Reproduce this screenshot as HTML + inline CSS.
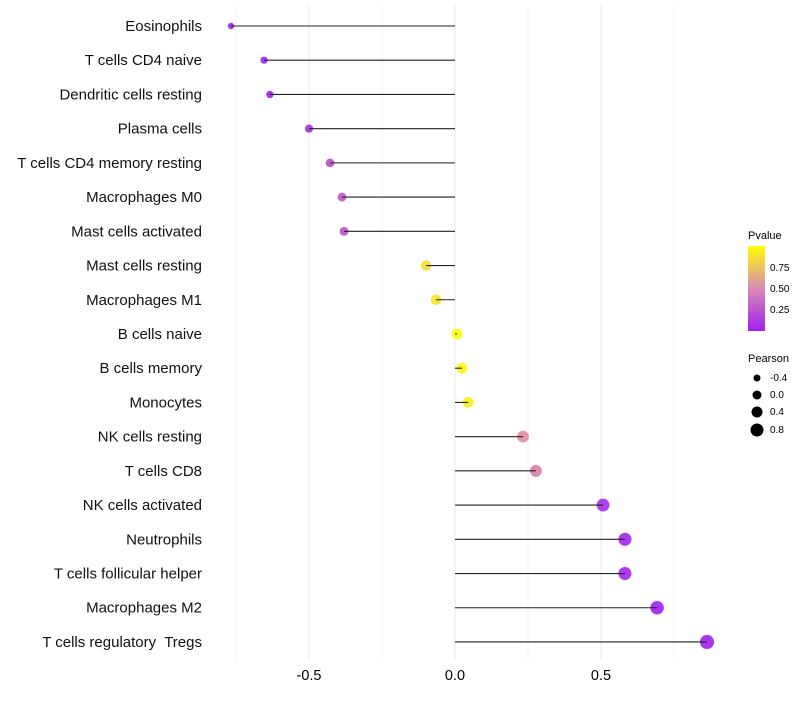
<!DOCTYPE html>
<html><head><meta charset="utf-8"><style>
body{margin:0;background:#fff;font-family:"Liberation Sans",sans-serif}
text{white-space:pre}
</style></head><body>
<svg id="chart" width="800" height="700" xmlns="http://www.w3.org/2000/svg">
<defs><linearGradient id="pg" x1="0" y1="1" x2="0" y2="0">
<stop offset="0" stop-color="#A020F0"/><stop offset="0.5" stop-color="#D98BB4"/><stop offset="1" stop-color="#FFFF00"/>
</linearGradient></defs>
<g id="grid"></g><g id="marks"></g><g id="labels"></g>
<g font-size="10">
<text x="748" y="239" font-size="11">Pvalue</text>
<rect x="748" y="246" width="17" height="85" fill="url(#pg)"/>
<text x="770" y="271">0.75</text><text x="770" y="292">0.50</text><text x="770" y="313">0.25</text>
</g>
<g font-size="10">
<text x="748" y="362" font-size="11">Pearson</text>
<circle cx="757" cy="378" r="3.5"/><text x="770" y="381">-0.4</text>
<circle cx="757" cy="395" r="4.5"/><text x="770" y="398">0.0</text>
<circle cx="757" cy="412" r="5.5"/><text x="770" y="415">0.4</text>
<circle cx="757" cy="430" r="6.5"/><text x="770" y="433">0.8</text>
</g>
</svg>
<script>
const cells=["Eosinophils","T cells CD4 naive","Dendritic cells resting","Plasma cells","T cells CD4 memory resting","Macrophages M0","Mast cells activated","Mast cells resting","Macrophages M1","B cells naive","B cells memory","Monocytes","NK cells resting","T cells CD8","NK cells activated","Neutrophils","T cells follicular helper","Macrophages M2","T cells regulatory  Tregs"];
const pearson=[-0.767,-0.654,-0.634,-0.5,-0.428,-0.387,-0.38,-0.099,-0.065,0.007,0.024,0.045,0.233,0.277,0.507,0.582,0.582,0.692,0.863];
const pvalues=[0.0,0.01,0.02,0.08,0.2,0.25,0.22,0.85,0.88,1.0,0.96,0.92,0.5,0.45,0.05,0.03,0.03,0.0,0.0];
const ticks=[-0.5,0,0.5];
const tickLabels=["-0.5","0.0","0.5"];
const minor=[-0.75,-0.25,0.25,0.75];
const NS="http://www.w3.org/2000/svg";
const x=v=>455+v*292;
const y=i=>26+i*34.22;
const rad=v=>Math.sqrt(Math.max(4,29+24*v));
function col(p){const a=[160,32,240],m=[222,140,160],b=[255,255,0];let c;
if(p<0.5){const t=p/0.5;c=a.map((v,k)=>v+(m[k]-v)*t);}else{const t=(p-0.5)/0.5;c=m.map((v,k)=>v+(b[k]-v)*t);}
return `rgb(${c.map(Math.round).join(",")})`;}
function mk(t,a,p){const e=document.createElementNS(NS,t);for(const k in a)e.setAttribute(k,a[k]);(p).appendChild(e);return e;}
const G=document.getElementById("grid"),M=document.getElementById("marks"),L=document.getElementById("labels");
minor.concat(ticks).forEach(v=>{const l=mk("line",{x1:x(v),x2:x(v),y1:5,y2:660,stroke:"#ebebeb","stroke-width":ticks.includes(v)?1.1:0.6},G);

});
ticks.forEach((v,i)=>{const t=mk("text",{x:x(v),y:680,"text-anchor":"middle","font-size":14.5,fill:"#000"},L);t.textContent=tickLabels[i];

});
cells.forEach((c,i)=>{
const t=mk("text",{x:202,y:y(i)+5,"text-anchor":"end","font-size":15,fill:"#111"},L);t.textContent=c;


const p=mk("circle",{cx:x(pearson[i]),cy:y(i),r:rad(pearson[i]),fill:col(pvalues[i]),"fill-opacity":0.9},M);


const s=mk("line",{x1:x(0),x2:x(pearson[i]),y1:y(i),y2:y(i),stroke:"#222","stroke-width":1.1},M);


});
</script>
</body></html>
